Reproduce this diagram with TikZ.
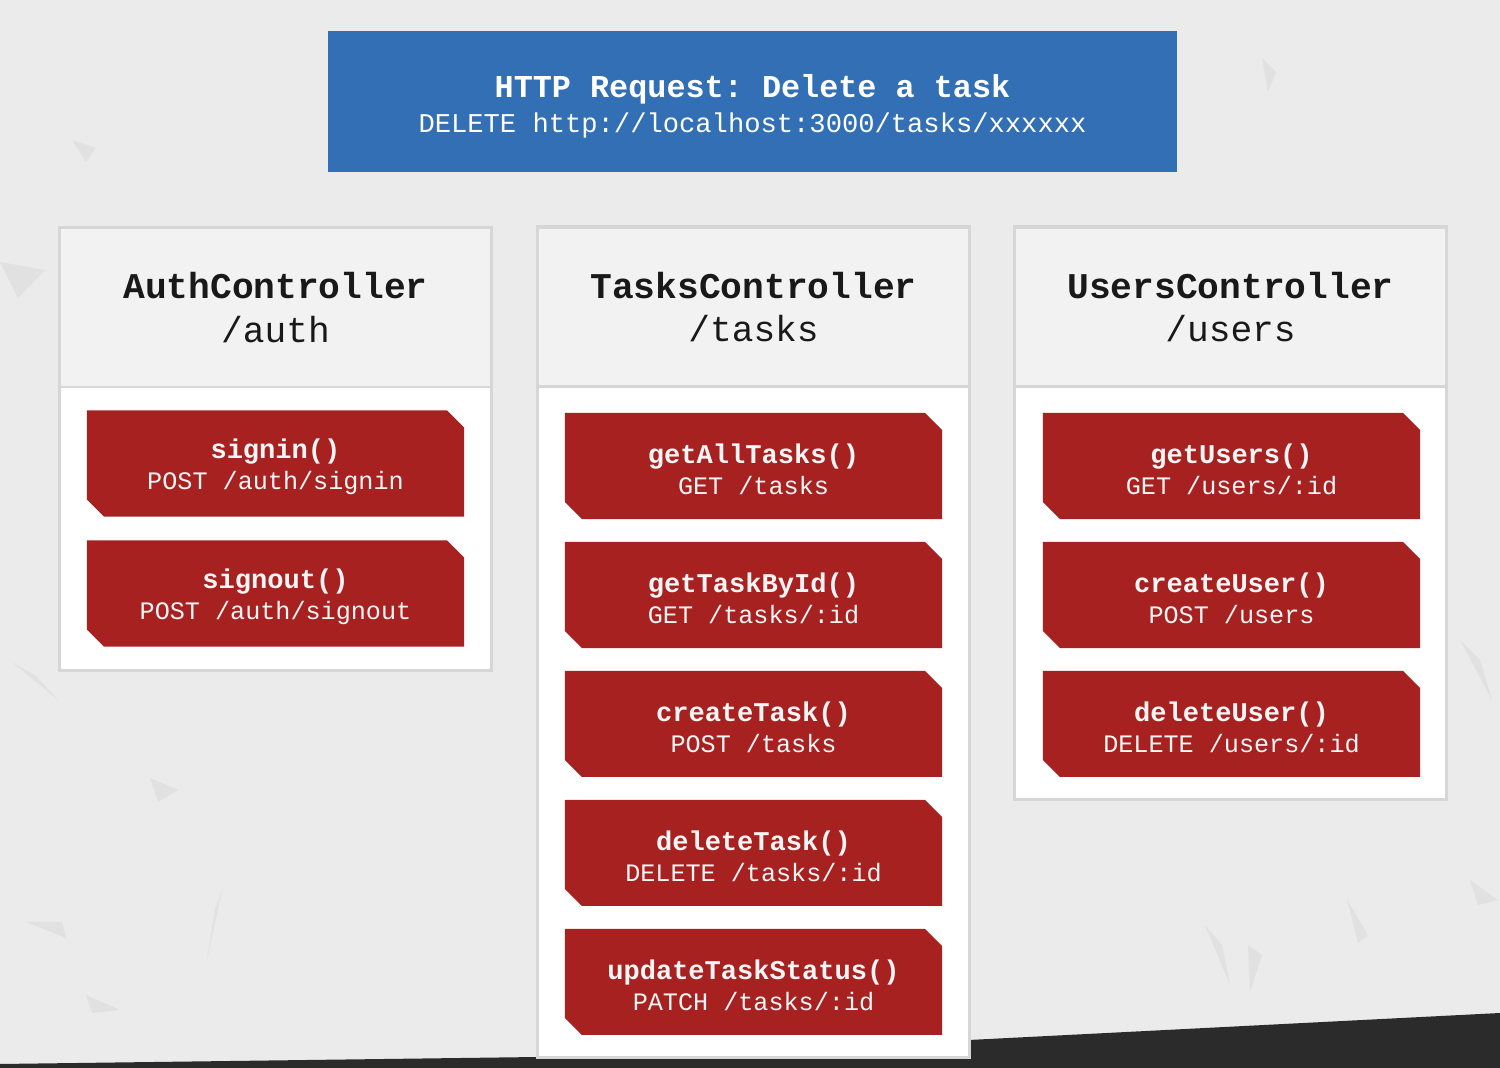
\documentclass[tikz,border=0pt]{standalone}
\usepackage{fontspec}
\setmonofont{Liberation Mono}
\usetikzlibrary{positioning,shapes.misc}
\definecolor{bggray}{HTML}{EBEBEB}
\definecolor{shard}{HTML}{E1E1E1}
\definecolor{strip}{HTML}{2B2B2B}
\definecolor{headgray}{HTML}{F2F2F2}
\definecolor{panelline}{HTML}{D6D6D6}
\definecolor{reqblue}{HTML}{336FB4}
\definecolor{methodred}{HTML}{A82121}
\newcommand{\mname}[1]{{\bfseries\fontsize{7.7}{8.75}\selectfont\rule{0pt}{7.6pt}#1}}

\begin{document}
\begin{tikzpicture}[x=0.01cm,y=-0.01cm,
  panel/.style={draw=panelline,fill=white,line width=0.8pt,minimum width=4.31cm,inner sep=0pt},
  head/.style={draw=panelline,fill=headgray,line width=0.8pt,minimum width=4.31cm,minimum height=1.59cm,inner sep=0pt,align=center,text=black!90,font=\ttfamily\fontsize{10.3}{12.3}\selectfont},
  method/.style={chamfered rectangle,chamfered rectangle corners={north east,south west},chamfered rectangle xsep=0.085cm,chamfered rectangle ysep=0.085cm,fill=methodred,text=white!96!black,minimum width=3.77cm,minimum height=1.06cm,inner sep=0pt,align=center,font=\ttfamily\fontsize{7.15}{8.75}\selectfont}]
\useasboundingbox (0,0) rectangle (1500,1068);
\fill[bggray] (0,0) rectangle (1500,1068);
\fill[shard] (0,262) -- (45,270) -- (18,298) -- cycle;
\fill[shard] (72,140) -- (96,148) -- (86,162) -- cycle;
\fill[shard] (12,662) -- (58,700) -- (36,676) -- cycle;
\fill[shard] (1262,58) -- (1276,72) -- (1268,92) -- cycle;
\fill[shard] (150,778) -- (178,790) -- (158,802) -- cycle;
\fill[shard] (26,922) -- (62,922) -- (66,938) -- cycle;
\fill[shard] (86,995) -- (120,1010) -- (92,1013) -- cycle;
\fill[shard] (215,910) -- (222,890) -- (207,960) -- cycle;
\fill[shard] (1205,925) -- (1230,985) -- (1222,945) -- cycle;
\fill[shard] (1248,945) -- (1262,955) -- (1250,992) -- cycle;
\fill[shard] (1347,900) -- (1368,935) -- (1358,943) -- cycle;
\fill[shard] (1460,640) -- (1492,700) -- (1480,660) -- cycle;
\fill[shard] (1470,880) -- (1498,900) -- (1478,905) -- cycle;
\fill[strip] (0,1064) -- (538,1057) -- (969,1040) -- (1500,1013) -- (1500,1068) -- (0,1068) -- cycle;

\node[fill=reqblue,minimum width=8.49cm,minimum height=1.41cm,inner sep=0pt] (request) at (752.5,101.5) {};
\node[align=center,text=white,font=\ttfamily\fontsize{7.72}{9.8}\selectfont] (requesttext) at (752.5,106.5)
  {{\bfseries\fontsize{9.05}{9.8}\selectfont HTTP Request: Delete a task}\\DELETE http://localhost:3000/tasks/xxxxxx};

\node[panel,minimum height=4.42cm] (auth) at (275.5,449) {};
\node[head] (authhead) at (275.5,307.5) {{\bfseries AuthController}\\/auth};
\node[method] (signin) at (275.5,463.5) {\mname{signin()}\\POST /auth/signin};
\node[method,below=0.225cm of signin] (signout) {\mname{signout()}\\POST /auth/signout};

\node[panel,minimum height=8.30cm] (tasks) at (753.5,642) {};
\node[head] (taskshead) at (753.5,307) {{\bfseries TasksController}\\/tasks};
\node[method] (getall) at (753.5,466) {\mname{getAllTasks()}\\GET /tasks};
\node[method,below=0.215cm of getall] (getbyid) {\mname{getTaskById()}\\GET /tasks/:id};
\node[method,below=0.215cm of getbyid] (createtask) {\mname{createTask()}\\POST /tasks};
\node[method,below=0.215cm of createtask] (deletetask) {\mname{deleteTask()}\\DELETE /tasks/:id};
\node[method,below=0.215cm of deletetask] (updatestatus) {\mname{updateTaskStatus()}\\PATCH /tasks/:id};

\node[panel,minimum height=5.72cm] (users) at (1230.5,513) {};
\node[head] (usershead) at (1230.5,307) {{\bfseries UsersController}\\/users};
\node[method] (getusers) at (1231.5,466) {\mname{getUsers()}\\GET /users/:id};
\node[method,below=0.215cm of getusers] (createuser) {\mname{createUser()}\\POST /users};
\node[method,below=0.215cm of createuser] (deleteuser) {\mname{deleteUser()}\\DELETE /users/:id};
\end{tikzpicture}
\end{document}
